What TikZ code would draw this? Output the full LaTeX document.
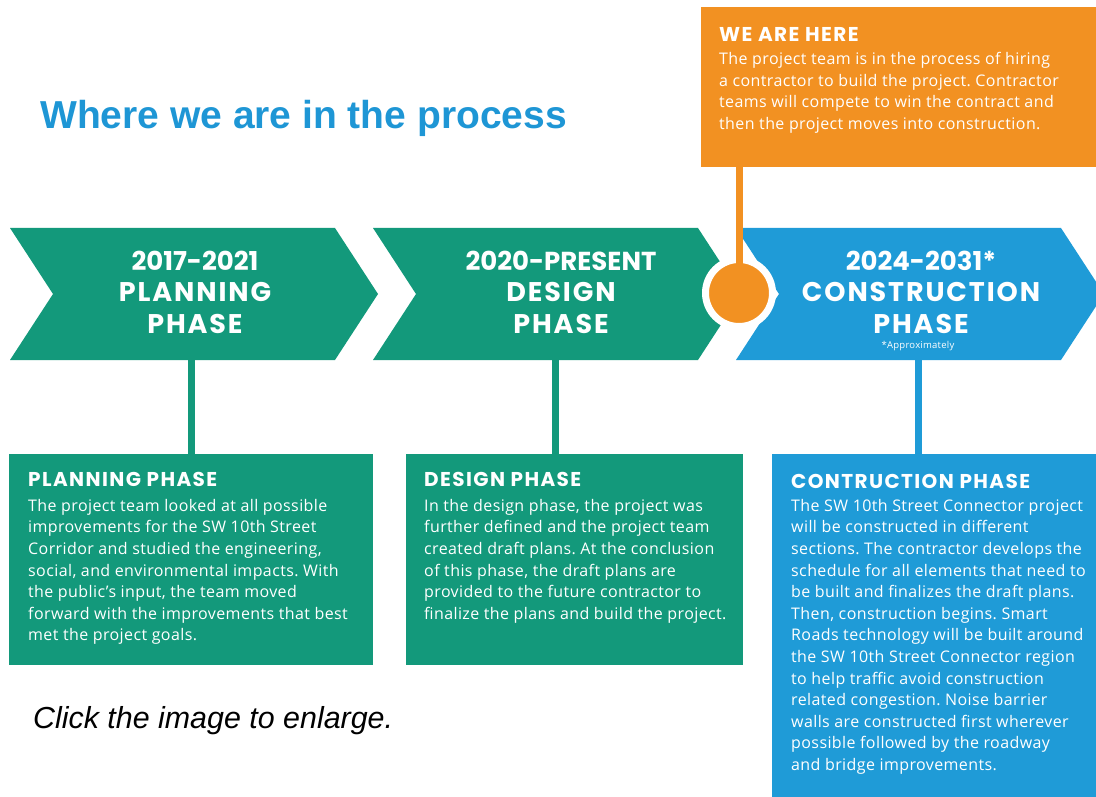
\documentclass[tikz,border=0pt]{standalone}
\usepackage{fontspec}
\setmainfont{Open Sans}[LetterSpace=2.5]
\newfontfamily\headfont{Poppins}[LetterSpace=7]
\newfontfamily\yearfont{Poppins}
\newfontfamily\arialfont{Liberation Sans}
\usepackage{tikz}
\usetikzlibrary{positioning}
\frenchspacing

\definecolor{phasegreen}{HTML}{13997B}
\definecolor{phaseblue}{HTML}{1F9BD7}
\definecolor{hereorange}{HTML}{F29122}
\definecolor{titleblue}{HTML}{1E96D5}

\newcommand{\yr}[1]{{\yearfont\fontsize{26}{31.5}\selectfont #1}}

\begin{document}
\begin{tikzpicture}[x=1pt, y=-1pt,
        chev/.style={align=center, text=white, inner sep=0pt, font=\headfont\bfseries\fontsize{27}{31.5}\selectfont},
        infobox/.style={anchor=north west, inner sep=0pt},
        head/.style={anchor=north west, inner sep=0pt, text=white, font=\headfont\bfseries\fontsize{20}{22}\selectfont},
        body/.style={anchor=north west, inner sep=0pt, align=left, text=white, font=\fontsize{16}{21.6}\selectfont},
        stem/.style={line width=7pt}
      ]
        \useasboundingbox (0,0) rectangle (1096,797);

        % title and footnote
        \node[anchor=base west, inner sep=0pt, text=titleblue, font=\arialfont\bfseries\fontsize{39}{44}\selectfont] (title) at (40,129) {Where we are in the process};
        \node[anchor=base west, inner sep=0pt, font=\arialfont\itshape\fontsize{30.4}{34}\selectfont] (click) at (33,728) {Click the image to enlarge.};

        % chevrons
        \foreach \x/\col in {10/phasegreen, 373/phasegreen, 736/phaseblue}
          \fill[\col] (\x,228) -- ++(325,0) -- ++(43,66) -- ++(-43,66) -- ++(-325,0) -- ++(43,-66) -- cycle;

        \coordinate (planfoot)   at (191,360);
        \coordinate (designfoot) at (555,360);
        \coordinate (constrfoot) at (918,360);

        % phase boxes
        \node[infobox, fill=phasegreen, minimum width=364pt, minimum height=211pt] (planbox)   at (9,454)   {};
        \node[infobox, fill=phasegreen, minimum width=337pt, minimum height=211pt] (designbox) at (406,454) {};
        \node[infobox, fill=phaseblue,  minimum width=324pt, minimum height=343pt] (constrbox) at (772,454) {};

        \draw[stem, phasegreen] (planfoot)   -- (planfoot |- planbox.north);
        \draw[stem, phasegreen] (designfoot) -- (designfoot |- designbox.north);
        \draw[stem, phaseblue]  (constrfoot) -- (constrfoot |- constrbox.north);

        \node[chev] (plan)   at (195,292) {\yr{2017-2021}\\PLANNING\\PHASE};
        \node[chev] (design) at (561,292) {\yr{2020-PRESENT}\\DESIGN\\PHASE};
        \node[chev] (constr) at (921,292) {\yr{2024-2031*}\\CONSTRUCTION\\PHASE};
        \node[inner sep=0pt, text=white, font=\fontsize{9.5}{11}\selectfont] (approx) at (918,346) {*Approximately};

        \node[head] (planhead)   at (28,472)  {PLANNING PHASE};
        \node[body] (plantext)   at (28,499)  {The project team looked at all possible\\
          improvements for the SW 10th Street\\
          Corridor and studied the engineering,\\
          social, and environmental impacts. With\\
          the public’s input, the team moved\\
          forward with the improvements that best\\
          met the project goals.};

        \node[head] (designhead) at (424,472) {DESIGN PHASE};
        \node[body] (designtext) at (424,499) {In the design phase, the project was\\
          further defined and the project team\\
          created draft plans. At the conclusion\\
          of this phase, the draft plans are\\
          provided to the future contractor to\\
          finalize the plans and build the project.};

        \node[head] (constrhead) at (791,474) {CONTRUCTION PHASE};
        \node[body] (constrtext) at (791,499) {The SW 10th Street Connector project\\
          will be constructed in different\\
          sections. The contractor develops the\\
          schedule for all elements that need to\\
          be built and finalizes the draft plans.\\
          Then, construction begins. Smart\\
          Roads technology will be built around\\
          the SW 10th Street Connector region\\
          to help traffic avoid construction\\
          related congestion. Noise barrier\\
          walls are constructed first wherever\\
          possible followed by the roadway\\
          and bridge improvements.};

        % we are here
        \node[infobox, fill=hereorange, minimum width=395pt, minimum height=160pt] (herebox) at (701,7) {};
        \node[head] (herehead) at (719,27) {WE ARE HERE};
        \node[body] (heretext) at (719,52) {The project team is in the process of hiring\\
          a contractor to build the project. Contractor\\
          teams will compete to win the contract and\\
          then the project moves into construction.};

        \node[circle, fill=hereorange, draw=white, line width=7pt, minimum size=67pt, inner sep=0pt] (dot) at (739,293) {};
        \draw[stem, hereorange] (dot |- herebox.south) -- (dot.center);
      \end{tikzpicture}
\end{document}
